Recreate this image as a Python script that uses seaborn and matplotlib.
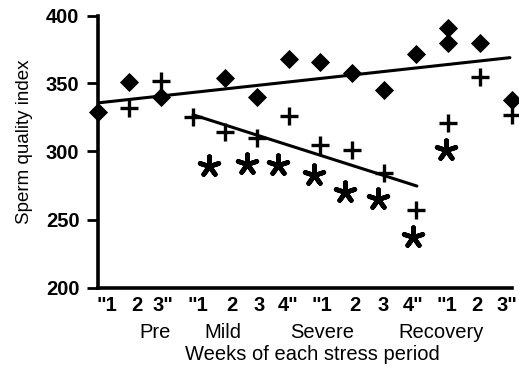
import matplotlib
matplotlib.use("Agg")
import matplotlib.pyplot as plt
import seaborn as sns
import pandas as pd

# ---- data ----
diamond_x = [0, 1, 2, 4, 5, 6, 7, 8, 9, 10, 11, 11, 12, 13]
diamond_y = [329, 351, 340, 354, 340, 368, 366, 358, 345, 372, 391, 380, 380, 338]

plus_x = [1, 2, 3, 4, 5, 6, 7, 8, 9, 10, 11, 12, 13]
plus_y = [332, 352, 325, 314, 310, 326, 305, 301, 284, 257, 321, 355, 327]

star_x = [3.5, 4.69, 5.67, 6.8, 7.77, 8.8, 9.9, 10.94]
star_y = [289, 291, 290, 283, 270, 265, 237, 301]

trend1_x = [0, 12.95]
trend1_y = [335.7, 369]
trend2_x = [3, 10.03]
trend2_y = [327, 274.6]

week_labels = ['"1', '2', '3"', '"1', '2', '3', '4"', '"1', '2', '3', '4"', '"1', '2', '3"']
week_label_pos = [0.30, 1.24, 2.07, 3.16, 4.22, 5.07, 5.98, 7.05, 8.08, 8.96, 9.9, 10.97, 11.92, 12.86]
period_labels = ['Pre', 'Mild', 'Severe', 'Recovery']
period_pos = [1.8, 3.94, 7.05, 10.78]
y_ticks = [200, 250, 300, 350, 400]

# ---- style ----
sns.set_style("ticks")
plt.rcParams['font.family'] = ['Liberation Sans', 'DejaVu Sans']
for key in ['text.color', 'axes.labelcolor', 'xtick.color', 'ytick.color', 'axes.edgecolor']:
    plt.rcParams[key] = 'black'

FS = 14.5

fig = plt.figure(figsize=(5.19, 3.71), dpi=100)
ax = fig.add_axes([97.5 / 519, 1 - 287.5 / 371, (511.5 - 97.5) / 519, (287.5 - 15.5) / 371])

d_df = pd.DataFrame({'x': diamond_x, 'y': diamond_y})
p_df = pd.DataFrame({'x': plus_x, 'y': plus_y})
s_df = pd.DataFrame({'x': star_x, 'y': star_y})
t1 = pd.DataFrame({'x': trend1_x, 'y': trend1_y})
t2 = pd.DataFrame({'x': trend2_x, 'y': trend2_y})

sns.lineplot(data=t1, x='x', y='y', ax=ax, color='black', linewidth=2.2, zorder=2)
sns.lineplot(data=t2, x='x', y='y', ax=ax, color='black', linewidth=2.2, zorder=2)

sns.scatterplot(data=d_df, x='x', y='y', ax=ax, marker='D', s=95, color='black',
                edgecolor='black', linewidth=0, zorder=4, clip_on=False)
sns.scatterplot(data=p_df, x='x', y='y', ax=ax, marker='+', s=150, color='black',
                linewidth=2.4, zorder=4, clip_on=False)
sns.scatterplot(data=s_df, x='x', y='y', ax=ax, marker=(5, 2, 0), s=200, color='black',
                linewidth=3.4, zorder=4, clip_on=False)

ax.set_xlim(0, 13)
ax.set_ylim(200, 400)
ax.set_yticks(y_ticks)
ax.set_yticklabels([str(v) for v in y_ticks], fontsize=FS, fontweight='bold')
ax.set_xticks(week_label_pos)
ax.set_xticklabels(week_labels, fontsize=FS, fontweight='bold')
ax.tick_params(axis='x', length=0, pad=6)
ax.tick_params(axis='y', length=8, width=2, pad=5, direction='out', color='black')

for lab, pos in zip(period_labels, period_pos):
    ax.text(pos, -(332 - 287.5) / 272, lab, transform=ax.get_xaxis_transform(),
            ha='center', va='center', fontsize=FS)

ax.set_xlabel('Weeks of each stress period', fontsize=FS)
ax.xaxis.set_label_coords((312 - 97.5) / 414, -(354 - 287.5) / 272)
ax.xaxis.label.set_va('center')
ax.set_ylabel('Sperm quality index', fontsize=13.5)
ax.yaxis.set_label_coords(-(97.5 - 25) / 414, (287.5 - 142) / 272)
ax.yaxis.label.set_va('center')

sns.despine(ax=ax)
for sp in ['left', 'bottom']:
    ax.spines[sp].set_linewidth(2.6)
    ax.spines[sp].set_color('black')

fig.savefig('out.png', dpi=100)
